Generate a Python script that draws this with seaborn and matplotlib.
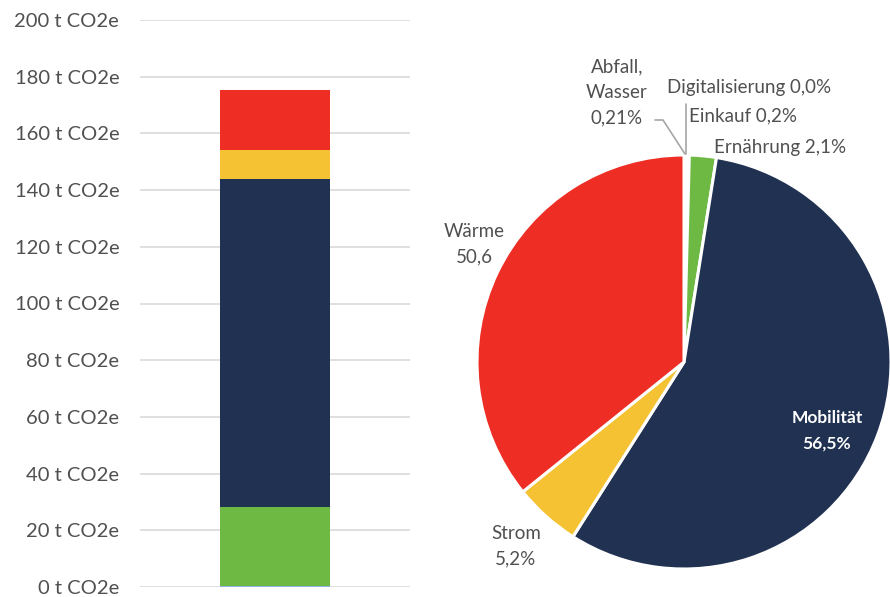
import matplotlib
matplotlib.use("Agg")
import matplotlib.pyplot as plt
import seaborn as sns
import pandas as pd
import numpy as np

# ---- data ----
bar_segments = ["Abfall, Wasser", "Ernährung", "Mobilität", "Strom", "Wärme"]
bar_values = [0.5, 27.7, 115.8, 10.1, 21.2]
bar_colors = ["#8EB4E3", "#6DB944", "#203151", "#F4C232", "#EE2E24"]
y_ticks = [0, 20, 40, 60, 80, 100, 120, 140, 160, 180, 200]
y_tick_labels = [f"{v} t CO2e" for v in y_ticks]

pie_labels = ["Abfall,\nWasser\n0,21%", "Digitalisierung 0,0%", "Einkauf 0,2%",
              "Ernährung 2,1%", "Mobilität\n56,5%", "Strom\n5,2%", "Wärme\n50,6"]
pie_values = [0.21, 0.0, 0.2, 2.1, 56.5, 5.2, 35.79]
pie_colors = ["#E6E6E6", "#D0D0D0", "#DDE6F2", "#6DB944", "#203151", "#F4C232", "#EE2E24"]

sns.set_theme(style="white")
plt.rcParams['font.family'] = ['Lato', 'DejaVu Sans']
txt = "#505050"

W, H = 890, 597
fig = plt.figure(figsize=(W / 100, H / 100), dpi=100)

# ---- stacked bar ----
ax = fig.add_axes([140 / W, 1 - 587 / H, 270 / W, 567 / H])
cum = np.cumsum(bar_values)
df = pd.DataFrame({"cat": ["Gesamt"] * len(bar_segments), "seg": bar_segments, "cum": cum})
for i in range(len(bar_segments) - 1, -1, -1):
    sns.barplot(data=df.iloc[[i]], x="cat", y="cum", color=bar_colors[i], width=0.41,
                ax=ax, saturation=1, edgecolor="none", linewidth=0, zorder=3)
ax.set_ylim(0, 200)
ax.set_xlim(-0.5, 0.5)
ax.set_yticks(y_ticks)
ax.set_yticklabels(y_tick_labels, color=txt, fontsize=14.5)
ax.set_xticks([])
ax.set_xlabel("")
ax.set_ylabel("")
ax.tick_params(axis="y", length=0, pad=15)
for s in ax.spines.values():
    s.set_visible(False)
ax.yaxis.grid(True, color="#D9D9D9", linewidth=1.2, zorder=0)
ax.set_axisbelow(True)

# ---- pie ----
R = 207
cx, cy = 684, 362
pax = fig.add_axes([(cx - R) / W, 1 - (cy + R) / H, 2 * R / W, 2 * R / H])
wedges, _ = pax.pie(pie_values, colors=pie_colors, startangle=90, counterclock=False,
                    radius=1, wedgeprops=dict(edgecolor="white", linewidth=2.2))
pax.set_xlim(-1, 1)
pax.set_ylim(-1, 1)
pax.set_aspect("equal")
pax.axis("off")

def P(x, y):
    return ((x - cx) / R, (cy - y) / R)

fs = 13.5
ls = 1.6
pax.text(*P(474, 244), pie_labels[6], ha="center", va="center", color=txt, fontsize=fs,
         linespacing=ls, clip_on=False)
pax.text(*P(827, 431), pie_labels[4], ha="center", va="center", color="white", fontsize=12.5,
         linespacing=1.75, fontweight="bold", clip_on=False)
pax.text(*P(516, 546), pie_labels[5], ha="center", va="center", color=txt, fontsize=fs,
         linespacing=ls, clip_on=False)
pax.text(*P(714, 148), pie_labels[3], ha="left", va="center", color=txt, fontsize=fs,
         clip_on=False)
pax.text(*P(689, 116), pie_labels[2], ha="left", va="center", color=txt, fontsize=fs,
         clip_on=False)
pax.text(*P(667, 88), pie_labels[1], ha="left", va="center", color=txt, fontsize=fs,
         clip_on=False)
pax.text(*P(617, 92), pie_labels[0], ha="center", va="center", color=txt, fontsize=fs,
         linespacing=ls, clip_on=False)

# leader lines
lx = [P(655, 120)[0], P(663, 120)[0], P(685, 154)[0]]
ly = [P(655, 120)[1], P(663, 120)[1], P(685, 154)[1]]
pax.plot(lx, ly, color="#A6A6A6", linewidth=1.2, clip_on=False)
pax.plot([P(686, 104)[0], P(686, 154)[0]], [P(686, 104)[1], P(686, 154)[1]],
         color="#A6A6A6", linewidth=1.2, clip_on=False)

fig.savefig("out.png", dpi=100, facecolor="white")
